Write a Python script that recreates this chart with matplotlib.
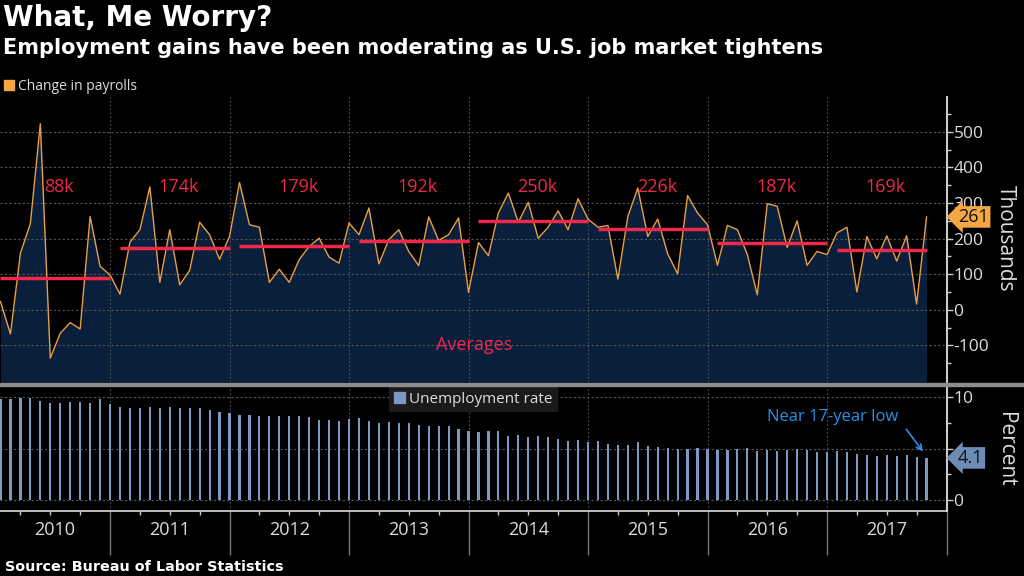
import numpy as np
import matplotlib
matplotlib.use('Agg')
import matplotlib.pyplot as plt
import matplotlib.transforms as mtransforms
from matplotlib.patches import Patch, Rectangle
from matplotlib.ticker import FixedLocator, NullFormatter, FuncFormatter

plt.rcParams['font.family'] = ['Open Sans', 'DejaVu Sans']
plt.rcParams['axes.unicode_minus'] = False

######################
## data (monthly, Jan 2010 - Oct 2017)
######################

years = [2010, 2011, 2012, 2013, 2014, 2015, 2016, 2017]

# change in nonfarm payrolls, thousands
payrolls = [
    23, -68, 159, 242, 523, -136, -66, -36, -54, 262, 122, 98,     # 2010
    44, 190, 225, 345, 77, 225, 70, 111, 246, 211, 142, 206,       # 2011
    358, 239, 232, 77, 114, 77, 141, 178, 201, 148, 131, 244,      # 2012
    211, 286, 129, 197, 225, 164, 124, 261, 195, 211, 258, 49,     # 2013
    189, 152, 272, 328, 246, 302, 201, 232, 278, 225, 312, 255,    # 2014
    232, 237, 86, 262, 342, 206, 255, 157, 101, 321, 272, 239,     # 2015
    125, 237, 225, 155, 42, 298, 291, 175, 250, 125, 164, 155,     # 2016
    216, 232, 50, 206, 143, 208, 137, 208, 16, 261,                # 2017
]

# unemployment rate, percent
unemployment = [
    9.8, 9.8, 9.9, 9.9, 9.6, 9.4, 9.4, 9.5, 9.5, 9.4, 9.8, 9.3,
    9.1, 9.0, 9.0, 9.1, 9.0, 9.1, 9.0, 9.0, 9.0, 8.8, 8.6, 8.5,
    8.3, 8.3, 8.2, 8.2, 8.2, 8.2, 8.2, 8.1, 7.8, 7.8, 7.7, 7.9,
    8.0, 7.7, 7.5, 7.6, 7.5, 7.5, 7.3, 7.2, 7.2, 7.2, 6.9, 6.7,
    6.6, 6.7, 6.7, 6.2, 6.3, 6.1, 6.2, 6.1, 5.9, 5.7, 5.8, 5.6,
    5.7, 5.5, 5.4, 5.4, 5.6, 5.3, 5.2, 5.1, 5.0, 5.0, 5.1, 5.0,
    4.9, 4.9, 5.0, 5.1, 4.8, 4.9, 4.8, 4.9, 5.0, 4.9, 4.7, 4.7,
    4.8, 4.7, 4.5, 4.4, 4.3, 4.4, 4.3, 4.4, 4.2, 4.1,
]

# yearly averages of payroll gains, thousands
avg_payrolls = [88, 174, 179, 192, 250, 226, 187, 169]

######################
## colours
######################

ORANGE = '#f5a742'
LINE = '#e9a043'
FILL = '#0a1f3c'
RED = '#f0284a'
BLUE_BAR = '#7b99c2'
TAG_BLUE = '#6e8bb3'
NOTE_BLUE = '#2d8fe6'
GRID = '#555555'
TXT = '#dddddd'

######################
## figure layout (pixel boxes)
######################

W, H = 1024, 576
def box(left, top, right, bottom):
    return [left / W, 1 - bottom / H, (right - left) / W, (bottom - top) / H]

fig = plt.figure(figsize=(10.24, 5.76), dpi=100, facecolor='black')
ax = fig.add_axes(box(0, 97, 946.5, 382))
ax2 = fig.add_axes(box(0, 387, 946.5, 511))

n = len(payrolls)
x = np.arange(1, n + 1)
xlim = (0.95, 96)
bounds = [12 * (k + 1) for k in range(len(years))]
quarters = [q for q in range(3, 97, 3) if q % 12 != 0]

######################
## top panel: payrolls
######################

ymin, ymax = -203, 598
ax.set_facecolor('black')
ax.set_xlim(*xlim)
ax.set_ylim(ymin, ymax)
ax.fill_between(x, payrolls, ymin, color=FILL, zorder=1, linewidth=0)
ax.plot(x, payrolls, color=LINE, lw=1, zorder=3)

for k, avg in enumerate(avg_payrolls):
    x0 = 12 * k + 1
    x1 = min(12 * k + 12, n)
    ax.plot([x0, x1], [avg, avg], color=RED, lw=2.5, solid_capstyle='butt', zorder=4)
    ax.text((x0 + x1) / 2 + 0.4, 344, '{}k'.format(avg), color=RED,
            fontsize=13, ha='center', va='center', zorder=5)

ax.text(48.6, -99, 'Averages', color=RED, fontsize=13, ha='center', va='center', zorder=5)

ax.yaxis.tick_right()
ax.yaxis.set_major_locator(FixedLocator([-100, 0, 100, 200, 300, 400, 500]))
ax.yaxis.set_minor_locator(FixedLocator(np.arange(-150, 600, 100)))
ax.xaxis.set_major_locator(FixedLocator(bounds))
ax.xaxis.set_major_formatter(NullFormatter())
ax.tick_params(axis='x', which='both', length=0, labelbottom=False)
ax.tick_params(axis='y', which='major', colors='#cccccc', labelcolor=TXT,
               labelsize=12.5, length=4, width=1, pad=1)
ax.tick_params(axis='y', which='minor', colors='#cccccc', length=3, width=1)
ax.grid(axis='y', which='major', color=GRID, ls=(0, (2, 2)), lw=0.8, zorder=0)
ax.grid(axis='x', which='major', color=GRID, ls=(0, (1.5, 2)), lw=0.8, zorder=2)
for s in ['left', 'top', 'bottom']:
    ax.spines[s].set_visible(False)
ax.spines['right'].set_color('#cccccc')
ax.spines['right'].set_linewidth(1.5)

trans = mtransforms.blended_transform_factory(ax.transAxes, ax.transData)
ax.text(1.012, payrolls[-1], '{}'.format(payrolls[-1]), transform=trans,
        ha='left', va='center', fontsize=13, color='#111111', zorder=6,
        bbox=dict(boxstyle='larrow,pad=0.1', fc=ORANGE, ec='none'))

######################
## bottom panel: unemployment
######################

ax2.set_facecolor('black')
ax2.bar(x, unemployment, width=0.22, color=BLUE_BAR, zorder=3)
ax2.set_xlim(*xlim)
ax2.set_ylim(-1.07, 11.0)

ax2.yaxis.tick_right()
ax2.yaxis.set_major_locator(FixedLocator([0, 5, 10]))
ax2.yaxis.set_minor_locator(FixedLocator([2.5, 7.5]))
# the "5" label sits under the latest-value tag, as in the source chart
ax2.yaxis.set_major_formatter(FuncFormatter(lambda v, p: '' if v == 5 else '{:g}'.format(v)))
ax2.tick_params(axis='y', which='major', colors='#cccccc', labelcolor=TXT,
                labelsize=12.5, length=4, width=1, pad=1)
ax2.tick_params(axis='y', which='minor', colors='#cccccc', length=3, width=1)

ax2.xaxis.set_major_locator(FixedLocator(bounds))
ax2.xaxis.set_minor_locator(FixedLocator(quarters))
ax2.xaxis.set_major_formatter(NullFormatter())
ax2.tick_params(axis='x', which='major', colors='#777777', length=31.7, width=1)
ax2.tick_params(axis='x', which='minor', colors='#cccccc', length=3, width=1)

ax2.grid(axis='y', which='major', color=GRID, ls=(0, (2, 2)), lw=0.8, zorder=0)
ax2.grid(axis='x', which='major', color=GRID, ls=(0, (1.5, 2)), lw=0.8, zorder=0)
for s in ['left', 'top']:
    ax2.spines[s].set_visible(False)
ax2.spines['bottom'].set_color('#dddddd')
ax2.spines['bottom'].set_linewidth(1.2)
ax2.spines['right'].set_color('#cccccc')
ax2.spines['right'].set_linewidth(1.5)

# year labels centred in the visible part of each year
ytrans = mtransforms.blended_transform_factory(ax2.transData, ax2.transAxes)
for k, yr in enumerate(years):
    a = max(12 * k, xlim[0])
    b = min(12 * (k + 1), xlim[1])
    ax2.text((a + b) / 2, -0.155, str(yr), transform=ytrans, ha='center',
             va='center', fontsize=13, color=TXT)

trans2 = mtransforms.blended_transform_factory(ax2.transAxes, ax2.transData)
ax2.text(1.012, unemployment[-1], '{}'.format(unemployment[-1]), transform=trans2,
         ha='left', va='center', fontsize=13, color='#111111', zorder=6,
         bbox=dict(boxstyle='larrow,pad=0.1', fc=TAG_BLUE, ec='none'))

ax2.text(84.6, 8.1, 'Near 17-year low', color=NOTE_BLUE, fontsize=12,
         ha='center', va='center', zorder=5)
ax2.annotate('', xy=(93.8, 4.5), xytext=(91.8, 7.1),
             arrowprops=dict(arrowstyle='->', color=NOTE_BLUE, lw=1.2), zorder=5)

ax2.legend(handles=[Patch(color=BLUE_BAR)], labels=['Unemployment rate'],
           loc='upper center', bbox_to_anchor=(0.5, 1.0), borderaxespad=0,
           fontsize=11, labelcolor=TXT, facecolor='#1a1a1a', edgecolor='#1a1a1a',
           framealpha=1, fancybox=False, handlelength=0.7, handleheight=0.7,
           handletextpad=0.3, borderpad=0.3)

######################
## figure-level text
######################

fig.add_artist(Rectangle((0, 1 - 386 / H), 1, 3 / H, transform=fig.transFigure,
                         color='#8c8c8c', zorder=10))

fig.legend(handles=[Patch(color=ORANGE)], labels=['Change in payrolls'],
           loc='center left', bbox_to_anchor=(4 / W, 1 - 86 / H), frameon=False,
           fontsize=10, labelcolor=TXT, handlelength=0.7, handleheight=0.7,
           handletextpad=0.3, borderpad=0, borderaxespad=0)

fig.text(1005 / W, 1 - 238 / H, 'Thousands', rotation=270, ha='center', va='center',
         fontsize=15, color=TXT)
fig.text(1005 / W, 1 - 449 / H, 'Percent', rotation=270, ha='center', va='center',
         fontsize=15, color=TXT)

fig.text(3 / W, 1 - 18 / H, 'What, Me Worry?', fontsize=20, fontweight='bold',
         family='DejaVu Sans', color='white', va='center', ha='left')
fig.text(3 / W, 1 - 48 / H,
         'Employment gains have been moderating as U.S. job market tightens',
         fontsize=15, fontweight='bold', family='DejaVu Sans', color='white',
         va='center', ha='left')
fig.text(5 / W, 1 - 567 / H, 'Source: Bureau of Labor Statistics', fontsize=10.4,
         fontweight='bold', family='DejaVu Sans', color='white', va='center', ha='left')

fig.savefig('out.png', dpi=100, facecolor='black')
